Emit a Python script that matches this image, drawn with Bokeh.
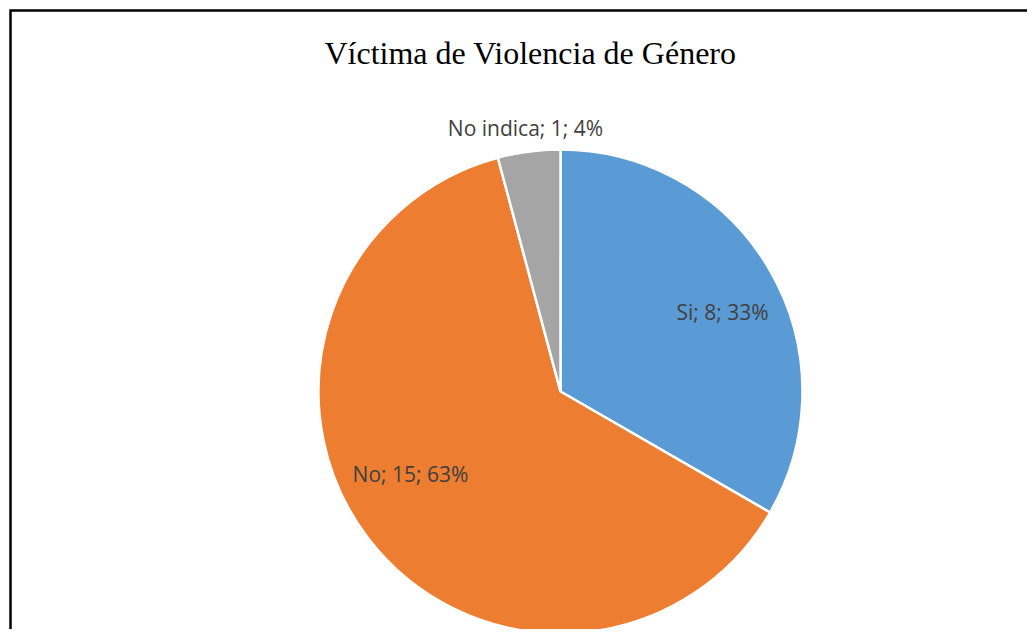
import math
from bokeh.plotting import figure
from bokeh.models import Range1d, ColumnDataSource
from bokeh.core.properties import value
from bokeh.embed import file_html
from bokeh.resources import INLINE

# ---- data ----
title_text = "Víctima de Violencia de Género"
categories = ["Si", "No", "No indica"]
counts = [8, 15, 1]
colors = ["#5B9BD5", "#ED7D31", "#A5A5A5"]

# ---- layout / style ----
W, H = 1027, 629
cx, cy, R = 560, 238, 242
label_dx = [162, -150, -35]     # label anchor offset from centre (px)
label_dy = [80, -82, 264]

total = sum(counts)
starts, ends, pct_labels = [], [], []
a = math.pi / 2
for c, cat in zip(counts, categories):
    span = 2 * math.pi * c / total
    starts.append(a - span)
    ends.append(a)
    a -= span
    pct = math.floor(100 * c / total + 0.5)
    pct_labels.append(f"{cat}; {c}; {pct}%")

src = ColumnDataSource(dict(start=starts, end=ends, color=colors, cat=categories))

p = figure(width=W, height=H, output_backend="svg", toolbar_location=None,
           x_range=Range1d(0, W), y_range=Range1d(0, H), min_border=0)
p.axis.visible = False
p.xgrid.visible = False
p.ygrid.visible = False
p.outline_line_color = None
p.background_fill_color = "white"
p.border_fill_color = "white"

p.wedge(x=cx, y=cy, radius=R, start_angle="start", end_angle="end",
        direction="anticlock", fill_color="color", line_color="white",
        line_width=2.5, source=src)

lx = [cx + d for d in label_dx]
ly = [cy + d for d in label_dy]
p.text(x=lx, y=ly, text=pct_labels, text_font=value("Open Sans"),
       text_font_size="21px", text_color="#404040", text_align="center",
       text_baseline="alphabetic")

p.text(x=[530], y=[577], text=[title_text], text_font=value("Liberation Serif"),
       text_font_size="32px", text_color="#000000", text_align="center",
       text_baseline="alphabetic")

# chart-area border (left and top edges visible; the rest lies outside the crop)
p.line(x=[10, 10, W + 60], y=[-60, H - 10, H - 10], line_color="black",
       line_width=2.5, line_join="miter")

open("out.html", "w").write(file_html(p, INLINE))
